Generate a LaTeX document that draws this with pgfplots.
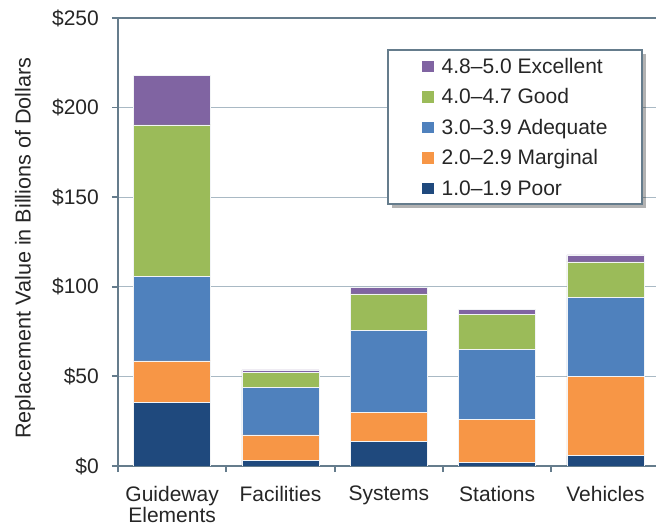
\documentclass[border=0pt]{standalone}
\usepackage{pgfplots}
\pgfplotsset{compat=1.18}
\usepackage{pgfplotstable}
\usepackage{fontspec}
\setmainfont{Liberation Sans}
\usetikzlibrary{shadows}

\definecolor{cPoor}{HTML}{1F497D}
\definecolor{cMarginal}{HTML}{F79646}
\definecolor{cAdequate}{HTML}{4F81BD}
\definecolor{cGood}{HTML}{9BBB59}
\definecolor{cExcellent}{HTML}{8064A2}
\definecolor{axiscol}{HTML}{657C8C}
\definecolor{gridcol}{HTML}{A9B9C4}
\definecolor{txtcol}{HTML}{262626}

% keep the legend's shadow off the colour swatches
\makeatletter
\tikzset{no preactions/.code={\let\tikz@preactions\pgfutil@empty}}
\makeatother

% replacement value (billions of dollars) by condition rating
\pgfplotstableread{
cat poor marginal adequate good excellent
0   35.5 23.1     47.4     84.3 27.7
1   3.2  14.1     26.4     8.4  1.5
2   13.8 16.2     45.5     20.5 3.5
3   2.2  24.0     38.7     19.6 3.1
4   5.8  44.1     44.1     19.9 3.9
}\datatable

\newcommand\lblfont{\fontsize{21}{21.5}\selectfont}

\begin{document}
\begin{tikzpicture}
\begin{axis}[
  name=ax,
  scale only axis, width=538pt, height=448pt,
  ybar stacked, bar width=77pt,
  xmin=-0.5, xmax=4.467, ymin=0, ymax=250,
  axis x line*=bottom, axis y line*=left,
  axis line style={-, draw=axiscol, line width=2.3pt},
  ytick={0,50,...,250},
  yticklabels={\$0,\$50,\$100,\$150,\$200,\$250},
  ymajorgrids, grid style={gridcol, line width=1.3pt},
  tick align=outside, major tick length=6pt,
  tick style={draw=axiscol, line width=1.8pt},
  xtick={-0.5,0.5,1.5,2.5,3.5}, xticklabels={},
  extra x ticks={0,1,2,3,4},
  extra x tick labels={{Guideway\\Elements},Facilities,Systems,Stations,Vehicles},
  extra x tick style={major tick length=0pt, grid=none},
  xticklabel style={align=center, font=\lblfont, text=txtcol, anchor=north, inner sep=0pt, yshift=-20pt},
  yticklabel style={font=\lblfont, text=txtcol, anchor=east, inner sep=0pt, xshift=-13pt},
  ylabel={Replacement Value in Billions of Dollars},
  ylabel style={font=\fontsize{21.6}{22}\selectfont, text=txtcol, at={([xshift=-93pt,yshift=-6pt]axis description cs:0,0.5)}, anchor=center},
  reverse legend,
  legend cell align=left,
  legend image code/.code={\path[#1, draw=none, no preactions] (0pt,-5.85pt) rectangle (11.7pt,5.85pt);},
  legend style={at={(axis description cs:0.5,0.93)}, anchor=north west,
    draw=axiscol, line width=2pt, fill=white, text=txtcol,
    font=\lblfont, inner xsep=34pt, inner ysep=7pt,
    row sep=12.5pt, column sep=8pt,
    nodes={inner sep=0pt, text height=16pt, text depth=2pt},
    drop shadow={shadow xshift=4pt, shadow yshift=-4pt, fill=black, opacity=0.3}},
  every axis plot/.append style={draw=white!85!gridcol, line width=0.5pt},
]
\addplot[fill=cPoor] table[x=cat, y=poor] {\datatable};
\addlegendentry{1.0–1.9 Poor}
\addplot[fill=cMarginal] table[x=cat, y=marginal] {\datatable};
\addlegendentry{2.0–2.9 Marginal}
\addplot[fill=cAdequate] table[x=cat, y=adequate] {\datatable};
\addlegendentry{3.0–3.9 Adequate}
\addplot[fill=cGood] table[x=cat, y=good] {\datatable};
\addlegendentry{4.0–4.7 Good}
\addplot[fill=cExcellent] table[x=cat, y=excellent] {\datatable};
\addlegendentry{4.8–5.0 Excellent}
\draw[axiscol, line width=2.3pt] (rel axis cs:0,1) -- (rel axis cs:1,1);
\end{axis}
\pgfresetboundingbox
\path[use as bounding box] ([xshift=-118pt,yshift=-61pt]ax.south west) rectangle ([yshift=18pt]ax.north east);
\end{tikzpicture}
\end{document}
